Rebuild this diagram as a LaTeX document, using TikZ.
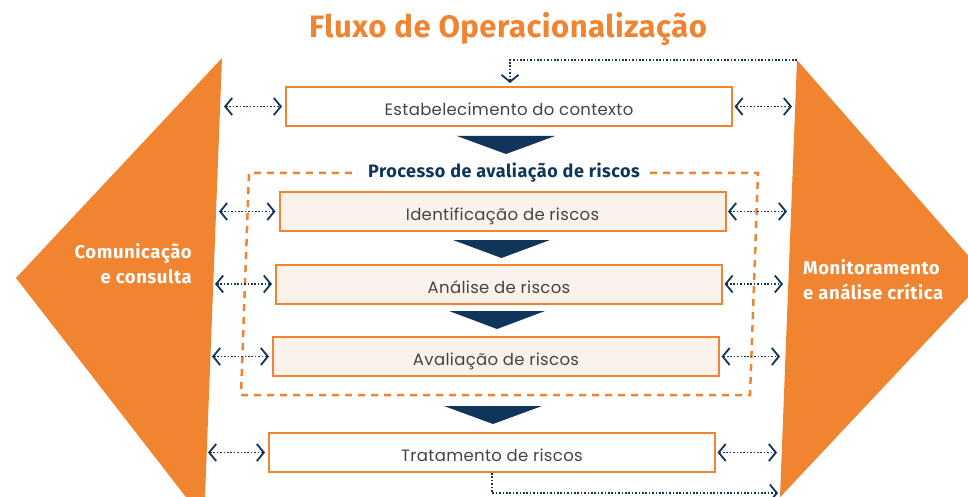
\documentclass[tikz,border=0pt]{standalone}
\usepackage{fontspec}
\setmainfont{Poppins}[LetterSpace=2]
\newfontfamily\hdfont{Fira Sans}[LetterSpace=3]
\newfontfamily\ttlfont{Fira Sans}[LetterSpace=1.7]
\usetikzlibrary{arrows.meta}
\definecolor{orng}{HTML}{F08431}
\definecolor{navy}{HTML}{0F365A}
\definecolor{peach}{HTML}{FCF2EC}
\definecolor{txtgray}{HTML}{444444}
\tikzset{
  stepbox/.style={draw=orng, line width=2pt, minimum width=446pt, minimum height=39pt, inner sep=0pt,
    text height=18pt, text depth=0pt,
    font=\fontsize{16.5}{19}\selectfont, text=txtgray},
  innerbox/.style={stepbox, fill=peach},
  chev/.tip={Straight Barb[length=7pt,width=17pt,line width=1.8pt]},
  dotline/.style={navy, line width=1.8pt, dash pattern=on 1.6pt off 1.8pt},
  dbl/.style={dotline, chev-chev},
  fb/.style={dotline, -chev},
  sidelabel/.style={text=white, font=\hdfont\bfseries\fontsize{18.5}{25}\selectfont, inner sep=0pt},
  downtri/.style={fill=navy},
}
\begin{document}
\begin{tikzpicture}[x=1pt,y=-1pt]
\clip (0,0) rectangle (968,497);
\fill[white] (0,0) rectangle (968,497);
% side shapes
\fill[orng] (222,58) -- (16,278) -- (196,510) -- (204.5,510) -- cycle;
\fill[orng] (797,60) -- (987,277) -- (768,510) -- (779.5,510) -- cycle;
% title
\node[text=orng, font=\ttlfont\bfseries\fontsize{31}{36}\selectfont] (title) at (508,29) {Fluxo de Operacionalização};
% side labels
\node[sidelabel, anchor=east, align=right] (com) at (192,263.5) {Comunicação\\e consulta};
\node[sidelabel, anchor=west, align=left] (mon) at (803,280) {Monitoramento\\e análise crítica};
% boxes
\node[stepbox, fill=white] (b1) at (509,106.5) {Estabelecimento do contexto};
\node[innerbox] (b2) at (502.5,211.5) {Identificação de riscos};
\node[innerbox] (b3) at (499,284) {Análise de riscos};
\node[innerbox] (b4) at (496,356.5) {Avaliação de riscos};
\node[stepbox, fill=white] (b5) at (492,452.5) {Tratamento de riscos};
% dashed group
\node[text=navy, font=\hdfont\bfseries\fontsize{18}{21}\selectfont, inner xsep=10pt] (proc) at (504,173) {Processo de avaliação de riscos};
\coordinate (gTR) at (758,173);
\coordinate (gBR) at (750,395);
\coordinate (gBL) at (241,395);
\coordinate (gTL) at (249,173);
\draw[orng, line width=2.5pt, dash pattern=on 7pt off 6pt] (proc.east |- gTR) -- (gTR) -- (gBR) -- (gBL) -- (gTL) -- (proc.west |- gTL);
% triangles
\fill[downtri] (457,136) -- (555,136) -- (506,154) -- cycle;
\fill[downtri] (453,240) -- (550,240) -- (501.5,258) -- cycle;
\fill[downtri] (449,311) -- (545,311) -- (497,329) -- cycle;
\fill[downtri] (444,406) -- (542,406) -- (493,424) -- cycle;
% side arrows
\coordinate (l1) at (224,106.5); \coordinate (r1) at (792,106.5);
\coordinate (l2) at (219,211.5); \coordinate (r2) at (787,211.5);
\coordinate (l3) at (215,284);   \coordinate (r3) at (783,284);
\coordinate (l4) at (212,356.5); \coordinate (r4) at (780,356.5);
\coordinate (l5) at (208,452.5); \coordinate (r5) at (777,452.5);
\foreach \i in {1,...,5}{
  \draw[dbl] (l\i) -- ([xshift=-3pt]b\i.west);
  \draw[dbl] ([xshift=1.5pt]b\i.east) -- (r\i);
}
% feedback
\coordinate (rt) at (797,60);
\coordinate (rb) at (778,493);
\draw[fb] (rt) -| ([xshift=1pt,yshift=3pt]b1.north);
\draw[fb] (b5.south) |- (rb);
\end{tikzpicture}
\end{document}
